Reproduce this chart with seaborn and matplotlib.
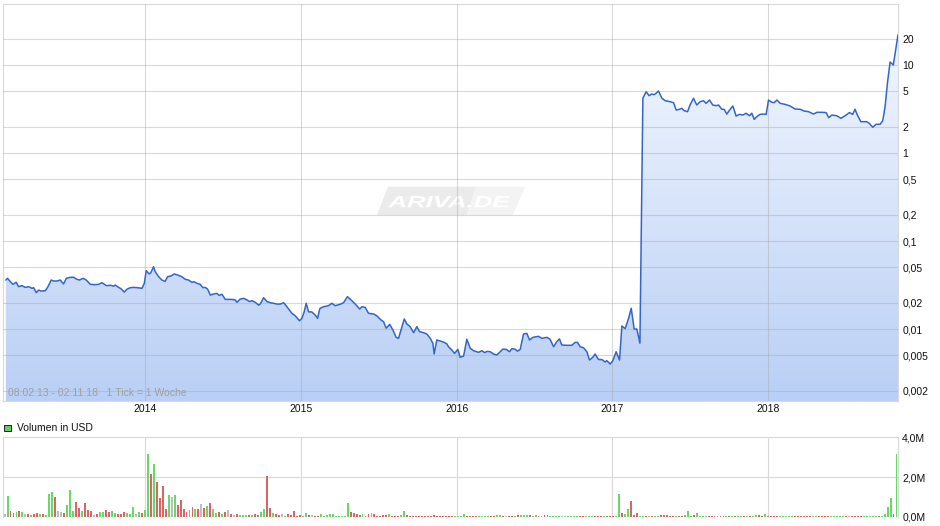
import numpy as np
import pandas as pd
import matplotlib
matplotlib.use("Agg")
import matplotlib.pyplot as plt
import seaborn as sns
from matplotlib.colors import LinearSegmentedColormap
from matplotlib.patches import Rectangle, Polygon, PathPatch
from matplotlib.textpath import TextPath
from matplotlib.font_manager import FontProperties
from matplotlib.transforms import Affine2D
from matplotlib.ticker import FixedLocator, FixedFormatter, NullLocator

price_t = [
    2013.104, 2013.115, 2013.133, 2013.150, 2013.171, 2013.186, 2013.208, 2013.229, 2013.251, 2013.272,
    2013.283, 2013.300, 2013.315, 2013.330, 2013.358, 2013.375, 2013.396, 2013.411, 2013.433, 2013.454,
    2013.475, 2013.493, 2013.518, 2013.540, 2013.561, 2013.578, 2013.600, 2013.621, 2013.647, 2013.679,
    2013.700, 2013.722, 2013.750, 2013.775, 2013.797, 2013.807, 2013.829, 2013.844, 2013.865, 2013.882,
    2013.904, 2013.925, 2013.947, 2013.979, 2013.994, 2014.006, 2014.026, 2014.036, 2014.053, 2014.064,
    2014.086, 2014.107, 2014.128, 2014.143, 2014.165, 2014.186, 2014.208, 2014.235, 2014.257, 2014.278,
    2014.300, 2014.311, 2014.332, 2014.353, 2014.370, 2014.385, 2014.400, 2014.418, 2014.439, 2014.460,
    2014.475, 2014.493, 2014.514, 2014.535, 2014.557, 2014.578, 2014.589, 2014.610, 2014.632, 2014.653,
    2014.670, 2014.685, 2014.707, 2014.728, 2014.739, 2014.760, 2014.782, 2014.803, 2014.824, 2014.846,
    2014.867, 2014.889, 2014.906, 2014.923, 2014.942, 2014.964, 2014.991, 2015.006, 2015.021, 2015.034,
    2015.049, 2015.071, 2015.092, 2015.107, 2015.120, 2015.124, 2015.145, 2015.177, 2015.199, 2015.220,
    2015.252, 2015.274, 2015.299, 2015.327, 2015.349, 2015.377, 2015.392, 2015.413, 2015.434, 2015.467,
    2015.488, 2015.514, 2015.531, 2015.548, 2015.570, 2015.591, 2015.612, 2015.627, 2015.649, 2015.664,
    2015.681, 2015.702, 2015.724, 2015.745, 2015.762, 2015.788, 2015.809, 2015.831, 2015.848, 2015.856,
    2015.873, 2015.895, 2015.920, 2015.938, 2015.948, 2015.970, 2015.987, 2016.008, 2016.023, 2016.045,
    2016.066, 2016.088, 2016.109, 2016.141, 2016.163, 2016.180, 2016.195, 2016.216, 2016.237, 2016.259,
    2016.280, 2016.297, 2016.319, 2016.340, 2016.355, 2016.376, 2016.391, 2016.409, 2016.430, 2016.451,
    2016.469, 2016.490, 2016.526, 2016.548, 2016.580, 2016.601, 2016.623, 2016.644, 2016.661, 2016.676,
    2016.708, 2016.741, 2016.762, 2016.777, 2016.794, 2016.815, 2016.837, 2016.854, 2016.875, 2016.890,
    2016.912, 2016.933, 2016.955, 2016.965, 2016.987, 2017.004, 2017.025, 2017.047, 2017.062, 2017.083,
    2017.105, 2017.122, 2017.141, 2017.158, 2017.178, 2017.197, 2017.218, 2017.237, 2017.254, 2017.269,
    2017.282, 2017.297, 2017.319, 2017.340, 2017.372, 2017.394, 2017.411, 2017.432, 2017.447, 2017.462,
    2017.484, 2017.500, 2017.522, 2017.543, 2017.565, 2017.586, 2017.603, 2017.625, 2017.646, 2017.668,
    2017.683, 2017.704, 2017.719, 2017.736, 2017.758, 2017.775, 2017.796, 2017.818, 2017.839, 2017.860,
    2017.882, 2017.897, 2017.912, 2017.929, 2017.950, 2017.972, 2017.989, 2018.004, 2018.025, 2018.040,
    2018.058, 2018.079, 2018.111, 2018.143, 2018.175, 2018.207, 2018.233, 2018.261, 2018.293, 2018.315,
    2018.347, 2018.374, 2018.391, 2018.411, 2018.443, 2018.469, 2018.496, 2018.524, 2018.545, 2018.560,
    2018.575, 2018.597, 2018.635, 2018.652, 2018.674, 2018.695, 2018.721, 2018.738, 2018.753, 2018.768,
    2018.785, 2018.806, 2018.836,
]
price_v = [
    0.0360, 0.0377, 0.0345, 0.0322, 0.0339, 0.0303, 0.0311, 0.0297, 0.0303, 0.0290,
    0.0295, 0.0259, 0.0277, 0.0270, 0.0272, 0.0303, 0.0360, 0.0351, 0.0351, 0.0360,
    0.0325, 0.0377, 0.0387, 0.0387, 0.0367, 0.0360, 0.0377, 0.0360, 0.0322, 0.0319,
    0.0322, 0.0336, 0.0311, 0.0314, 0.0307, 0.0316, 0.0297, 0.0287, 0.0263, 0.0283,
    0.0295, 0.0297, 0.0295, 0.0290, 0.0331, 0.0460, 0.0422, 0.0436, 0.0510, 0.0448,
    0.0393, 0.0360, 0.0348, 0.0393, 0.0400, 0.0422, 0.0411, 0.0393, 0.0367, 0.0360,
    0.0339, 0.0345, 0.0331, 0.0322, 0.0295, 0.0297, 0.0285, 0.0243, 0.0250, 0.0254,
    0.0241, 0.0248, 0.0217, 0.0217, 0.0217, 0.0214, 0.0201, 0.0219, 0.0223, 0.0214,
    0.0205, 0.0210, 0.0201, 0.0187, 0.0192, 0.0227, 0.0205, 0.0199, 0.0196, 0.0192,
    0.0192, 0.0199, 0.0183, 0.0167, 0.0151, 0.0141, 0.0124, 0.0132, 0.0157, 0.0196,
    0.0157, 0.0156, 0.0144, 0.0132, 0.0167, 0.0172, 0.0179, 0.0184, 0.0196, 0.0184,
    0.0191, 0.0199, 0.0233, 0.0210, 0.0192, 0.0169, 0.0179, 0.0176, 0.0151, 0.0148,
    0.0141, 0.0127, 0.0121, 0.0102, 0.0113, 0.00975, 0.00804, 0.00783, 0.01063, 0.0130,
    0.0114, 0.01063, 0.00908, 0.01063, 0.00933, 0.00908, 0.00877, 0.00783, 0.00687, 0.00520,
    0.00750, 0.00731, 0.00705, 0.00676, 0.00629, 0.00577, 0.00528, 0.00587, 0.00477, 0.00493,
    0.00764, 0.00603, 0.00567, 0.00543, 0.00567, 0.00538, 0.00556, 0.00552, 0.00520, 0.00507,
    0.00552, 0.00590, 0.00587, 0.00552, 0.00597, 0.00590, 0.00560, 0.00587, 0.00877, 0.00893,
    0.00750, 0.00804, 0.00826, 0.00783, 0.00804, 0.00764, 0.00629, 0.00718, 0.00772, 0.00658,
    0.00653, 0.00653, 0.00705, 0.00705, 0.00629, 0.00613, 0.00552, 0.00444, 0.00477, 0.00520,
    0.00450, 0.00450, 0.00422, 0.00437, 0.00400, 0.00437, 0.00552, 0.00444, 0.01082, 0.0101,
    0.0132, 0.0172, 0.0100, 0.0100, 0.0069, 4.19, 4.97, 4.48, 4.68, 4.60,
    4.77, 5.07, 4.19, 3.93, 3.83, 3.73, 3.08, 3.14, 3.22, 3.03,
    2.95, 3.51, 4.19, 3.51, 3.83, 3.93, 3.67, 4.00, 3.51, 3.45,
    3.51, 3.14, 3.14, 2.77, 3.14, 3.42, 2.63, 2.75, 2.70, 2.83,
    2.65, 2.83, 2.41, 2.59, 2.75, 2.77, 2.75, 4.00, 3.77, 3.73,
    4.00, 3.67, 3.57, 3.42, 3.16, 3.14, 3.00, 2.95, 2.77, 2.90,
    2.90, 2.88, 2.52, 2.70, 2.65, 2.48, 2.65, 2.88, 2.75, 3.14,
    2.70, 2.27, 2.27, 2.17, 1.96, 2.12, 2.12, 2.33, 3.36, 6.2,
    10.8, 10.0, 22.0,
]

# Wochenvolumen in Mio. USD, Start 08.02.13
vol_start = 2013.104
vol_m = [
    0.15, 1.02, 0.30, 0.20, 0.25, 0.30, 0.25, 0.15, 0.15, 0.10,
    0.15, 0.20, 0.15, 0.15, 0.10, 1.12, 1.22, 0.97, 0.30, 0.25,
    0.20, 0.61, 1.37, 0.30, 0.76, 0.46, 0.30, 0.71, 0.36, 0.30,
    0.10, 0.15, 0.25, 0.25, 0.36, 0.25, 0.30, 0.20, 0.15, 0.15,
    0.25, 0.20, 0.15, 0.47, 0.13, 0.24, 0.18, 0.34, 3.16, 2.15,
    2.65, 1.75, 0.94, 1.55, 0.39, 1.09, 0.99, 1.09, 0.59, 0.84,
    0.39, 0.24, 0.34, 0.49, 0.39, 0.39, 0.64, 0.44, 0.54, 0.69,
    0.39, 0.18, 0.24, 0.13, 0.24, 0.34, 0.13, 0.10, 0.15, 0.10,
    0.10, 0.10, 0.10, 0.10, 0.15, 0.10, 0.25, 0.41, 2.03, 0.46,
    0.20, 0.15, 0.10, 0.15, 0.05, 0.15, 0.10, 0.30, 0.05, 0.10,
    0.05, 0.20, 0.10, 0.10, 0.05, 0.05, 0.15, 0.05, 0.10, 0.15,
    0.15, 0.05, 0.05, 0.05, 0.05, 0.71, 0.25, 0.20, 0.15, 0.10,
    0.15, 0.05, 0.15, 0.20, 0.15, 0.05, 0.05, 0.10, 0.10, 0.15,
    0.05, 0.05, 0.05, 0.10, 0.30, 0.10, 0.05, 0.05, 0.05, 0.05,
    0.05, 0.05, 0.05, 0.05, 0.10, 0.05, 0.05, 0.05, 0.02, 0.02,
    0.05, 0.02, 0.02, 0.02, 0.15, 0.05,
    0.05, 0.03, 0.03, 0.03, 0.03, 0.06, 0.03, 0.03, 0.03, 0.07,
    0.07, 0.03, 0.03, 0.03, 0.04, 0.06, 0.08, 0.10, 0.07, 0.08,
    0.08, 0.06, 0.07, 0.06, 0.05, 0.07, 0.07, 0.04, 0.04, 0.04,
    0.03, 0.06, 0.06, 0.03, 0.03, 0.03, 0.03, 0.03, 0.03, 0.03,
    0.03, 0.03, 0.03, 0.03, 0.03, 0.03, 0.03, 0.03, 0.03, 0.04,
    1.12, 0.20, 0.15, 0.41, 0.81, 0.10, 0.20, 0.05, 0.05, 0.05,
    0.05, 0.05, 0.03, 0.05, 0.08, 0.08, 0.08, 0.05, 0.05, 0.03,
    0.03, 0.03, 0.10, 0.30, 0.03, 0.10, 0.20, 0.03, 0.03, 0.03,
    0.03, 0.03, 0.03, 0.03, 0.05, 0.03, 0.03, 0.05, 0.05, 0.03,
    0.05, 0.05, 0.03, 0.05, 0.05, 0.05, 0.08, 0.10, 0.05, 0.15,
    0.05, 0.05, 0.03, 0.03, 0.03, 0.05, 0.03, 0.03, 0.03, 0.03,
    0.03, 0.03, 0.03, 0.03, 0.03, 0.03, 0.03, 0.03, 0.03, 0.03,
    0.03, 0.03, 0.03, 0.03, 0.05, 0.03, 0.03, 0.05, 0.03, 0.03,
    0.03, 0.03, 0.03, 0.03, 0.03, 0.03, 0.03, 0.03, 0.05, 0.15,
    0.51, 0.92, 0.15, 3.15,
]
# g = Kurs gestiegen, r = gefallen, n = unveraendert
vol_dir = (
    "ngrrgrgnrg" "rrgrgggrnn" "rgggrrgrrr" "nrggrrggrr" "rgggngrggr"
    "grrrrgngrr" "rrgrgrnrgr" "ggrgrnrnrg" "ggrgrrggrr" "grrngrrrrr"
    "ggrnrrgggg" "ggggggrrrr" "grrgrrrrrg" "rrrggrrrrr" "rrrrrrrrrr"
    "rggggr"
    "rrrggggrrg" "grnrrgrggg" "rggrgrrggg" "gnnggggrrg" "ggrrrgrrrg"
    "grggrrrggr" "grggrrrrrg" "rrgggrgggg" "rrrgrrgrgr" "ggrgrggrrg"
    "rrrrgggggr" "rrrrrggrrr" "rgggggrnrr" "rrgggggrgg" "ggrg"
)

y_ticks = [20, 10, 5, 2, 1, 0.5, 0.2, 0.1, 0.05, 0.02, 0.01, 0.005, 0.002]
y_labels = ["20", "10", "5", "2", "1", "0,5", "0,2", "0,1", "0,05", "0,02", "0,01", "0,005", "0,002"]
years = [2014, 2015, 2016, 2017, 2018]
vol_ticks = [0, 2, 4]
vol_labels = ["0,0M", "2,0M", "4,0M"]

sns.set_style("white")
plt.rcParams["font.family"] = ["Liberation Sans", "DejaVu Sans"]

W, H = 940, 526
fig = plt.figure(figsize=(W / 100, H / 100), dpi=100)
ax = fig.add_axes([3 / W, (H - 401) / H, 895 / W, 397.5 / H])
axv = fig.add_axes([3 / W, (H - 516.7) / H, 895 / W, 79.4 / H])

xlim = (2013.086, 2018.836)
grid_c = "#d9d9d9"

# --- Kurs ---
df = pd.DataFrame({"t": price_t, "kurs": price_v})
sns.lineplot(data=df, x="t", y="kurs", ax=ax, color="#3366cc", lw=1.1, zorder=4)
ax.set_yscale("log")
poly = ax.fill_between(df["t"], df["kurs"], 1e-4, color="none", lw=0)
cmap = LinearSegmentedColormap.from_list("fl", ["#f7faff", "#b9cff5"])
grad = np.linspace(0, 1, 256).reshape(-1, 1)
img = ax.imshow(grad, cmap=cmap, extent=[0, 1, 0, 1], transform=ax.transAxes,
                aspect="auto", origin="upper", zorder=1)
img.set_clip_path(poly.get_paths()[0], transform=ax.transData)
ax.set_xlim(*xlim)
ax.set_ylim(0.00152, 50)

ax.yaxis.set_major_locator(FixedLocator(y_ticks))
ax.yaxis.set_major_formatter(FixedFormatter(y_labels))
ax.yaxis.set_minor_locator(NullLocator())
ax.yaxis.tick_right()
ax.set_xticks(years)
ax.set_xticklabels([str(y) for y in years])
ax.tick_params(axis="both", length=0, labelsize=7.5, colors="#111111")
ax.tick_params(axis="y", pad=3)
ax.tick_params(axis="x", pad=2.5)
ax.set_xlabel("")
ax.set_ylabel("")
ax.grid(True, color="#aaaaaa", alpha=0.45, lw=0.8)
ax.set_axisbelow(False)
for s in ax.spines.values():
    s.set_color(grid_c)
    s.set_linewidth(0.8)

ax.text(0.0056, 0.008, "08.02.13 - 02.11.18   1 Tick = 1 Woche", transform=ax.transAxes,
        color="#a0a0a0", fontsize=7.5, va="bottom", ha="left", zorder=5)

# Wasserzeichen (Pixelkoordinaten, Ursprung unten links)
px = Affine2D()
ax.add_patch(Polygon([(377, 311), (467, 311), (476, 339.3), (388, 339.3)], closed=True,
                     fc="#ebebeb", ec="none", transform=px, zorder=0.6))
ax.add_patch(Polygon([(467, 311), (513, 311), (525, 339.3), (476, 339.3)], closed=True,
                     fc="#f3f3f3", ec="none", transform=px, zorder=0.6))
fp = FontProperties(family="Liberation Sans", weight="bold", style="italic")
tp = TextPath((0, 0), "ARIVA.DE", size=10, prop=fp)
bb = tp.get_extents()
wm_tr = (Affine2D().translate(-bb.x0, -bb.y0)
         .scale(122 / bb.width, 11.3 / bb.height).translate(388, 318.7))
ax.add_patch(PathPatch(tp, fc="white", ec="none", transform=wm_tr, zorder=0.7))

# --- Volumen ---
vol_t = [vol_start - 0.008 + i * 7 / 365.25 for i in range(len(vol_m))]
dir_colors = {"g": "#66d966", "r": "#de6464", "n": "#bdbdbd"}
axv.bar(vol_t, vol_m, width=0.0125, color=[dir_colors[d] for d in vol_dir], lw=0, zorder=3)
axv.set_xlim(*xlim)
axv.set_ylim(0, 4)
axv.set_xticks(years)
axv.set_xticklabels([])
axv.yaxis.tick_right()
axv.set_yticks(vol_ticks)
axv.set_yticklabels(vol_labels)
axv.tick_params(axis="both", length=0, labelsize=7.5, colors="#111111")
axv.tick_params(axis="y", pad=3)
axv.grid(True, color=grid_c, lw=0.8)
axv.set_axisbelow(True)
for s in axv.spines.values():
    s.set_color(grid_c)
    s.set_linewidth(0.8)
axv.spines["bottom"].set_visible(False)

fig.patches.append(Rectangle((4 / W, 1 - 431 / H), 6.5 / W, 6.5 / H, transform=fig.transFigure,
                             fc="#66cc66", ec="#222222", lw=0.7))
fig.text(17 / W, 1 - 428 / H, "Volumen in USD", fontsize=7.5, va="center", ha="left", color="#111111")

fig.savefig("out.png", dpi=100)
